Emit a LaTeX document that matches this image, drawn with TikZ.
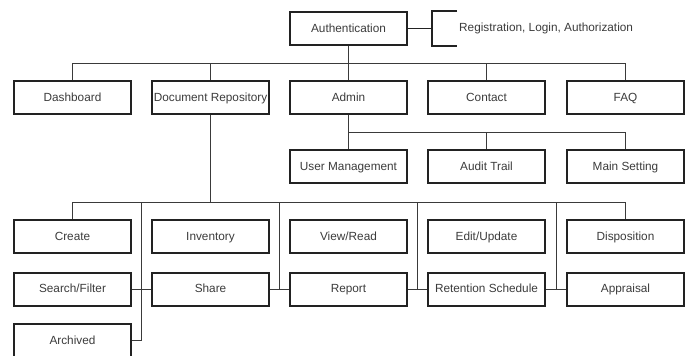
\documentclass[tikz,border=0pt]{standalone}
\usepackage{fontspec}
\setmainfont{Liberation Sans}
\usetikzlibrary{calc}
\definecolor{boxline}{HTML}{222222}
\definecolor{conn}{HTML}{3A3A3A}
\definecolor{txt}{HTML}{3C3C3C}
\begin{document}
\begin{tikzpicture}[x=1pt,y=-1pt,
  box/.style={draw=boxline,line width=2pt,minimum width=117pt,minimum height=33pt,inner sep=0pt,
    text height=8.2pt,text depth=1pt,
    text=txt,font=\fontsize{11.8}{13}\selectfont},
  conn/.style={draw=conn,line width=1pt},
  brk/.style={draw=boxline,line width=1.8pt}]
\useasboundingbox (0,0) rectangle (688,356);
\clip (0,0) rectangle (688,356);
\fill[white] (0,0) rectangle (688,356);
% top
\node[box] (auth) at (348.5,28.5) {Authentication};
% row A
\node[box] (dash) at (72.5,97.5) {Dashboard};
\node[box] (docrepo) at (210.5,97.5) {Document Repository};
\node[box] (admin) at (348.5,97.5) {Admin};
\node[box] (contact) at (486.5,97.5) {Contact};
\node[box] (faq) at (625.5,97.5) {FAQ};
% row B
\node[box] (userm) at (348.5,166.5) {User Management};
\node[box] (audit) at (486.5,166.5) {Audit Trail};
\node[box] (mainset) at (625.5,166.5) {Main Setting};
% row C
\node[box] (create) at (72.5,236.5) {Create};
\node[box] (inventory) at (210.5,236.5) {Inventory};
\node[box] (view) at (348.5,236.5) {View/Read};
\node[box] (edit) at (486.5,236.5) {Edit/Update};
\node[box] (disp) at (625.5,236.5) {Disposition};
% row D
\node[box] (search) at (72.5,289) {Search/Filter};
\node[box] (share) at (210.5,289) {Share};
\node[box] (report) at (348.5,289) {Report};
\node[box] (retention) at (486.5,289) {Retention Schedule};
\node[box] (appraisal) at (625.5,289) {Appraisal};
% row E
\node[box] (archived) at (72.5,340.5) {Archived};
% bracket
\coordinate (brk) at (432,28.5);
\coordinate (brktop) at (432,11);
\coordinate (brkbot) at (432,46);
\draw[brk] (auth.east) -- (brk);
\draw[brk] ($(brktop)+(25,0)$) -- (brktop) -- (brkbot) -- ($(brkbot)+(25,0)$);
\node[anchor=west,inner sep=0pt,text=txt,font=\fontsize{11.8}{13}\selectfont] (regtxt) at (459,28.5) {Registration, Login, Authorization};
% buses
\coordinate (bus1) at (0,63);
\coordinate (bus2) at (0,132);
\coordinate (bus3) at (0,202);
\draw[conn] (auth.south) -- (admin.north);
\draw[conn] (dash.north) |- (faq.north |- bus1) -- (faq.north);
\draw[conn] (docrepo.north) -- (docrepo.north |- bus1);
\draw[conn] (contact.north) -- (contact.north |- bus1);
\draw[conn] (admin.south) |- (mainset.north |- bus2) -- (mainset.north);
\draw[conn] (audit.north) -- (audit.north |- bus2);
\draw[conn] (userm.north) -- (userm.north |- bus2);
\draw[conn] (docrepo.south) -- (docrepo.south |- bus3);
\draw[conn] (create.north) |- (disp.north |- bus3) -- (disp.north);
% row D links
\coordinate (m1) at ($(search.east)!0.5!(share.west)$);
\coordinate (m2) at ($(share.east)!0.5!(report.west)$);
\coordinate (m3) at ($(report.east)!0.5!(retention.west)$);
\coordinate (m4) at ($(retention.east)!0.5!(appraisal.west)$);
\draw[conn] (search.east) -- (share.west);
\draw[conn] (share.east) -- (report.west);
\draw[conn] (report.east) -- (retention.west);
\draw[conn] (retention.east) -- (appraisal.west);
\draw[conn] (m1 |- bus3) -- (m1 |- archived.east) -- (archived.east);
\draw[conn] (m2 |- bus3) -- (m2);
\draw[conn] (m3 |- bus3) -- (m3);
\draw[conn] (m4 |- bus3) -- (m4);
\end{tikzpicture}
\end{document}
